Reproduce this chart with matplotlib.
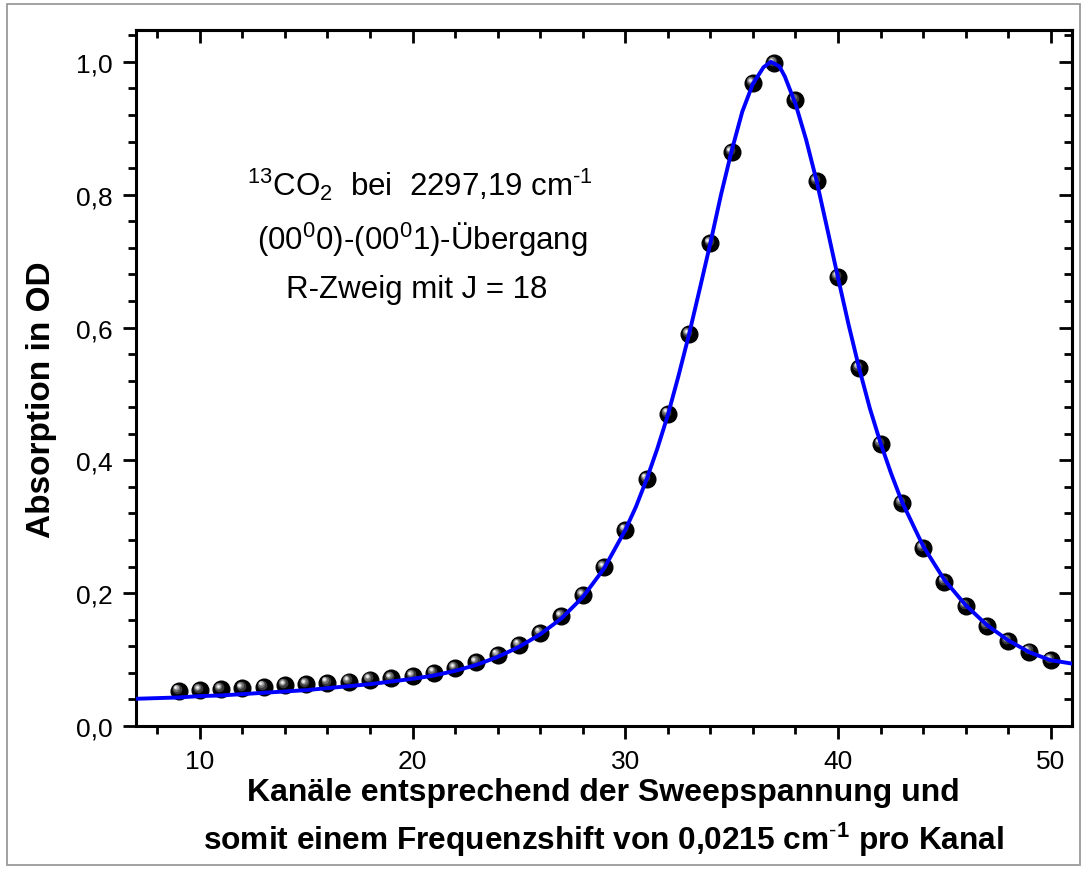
import matplotlib
matplotlib.use("Agg")
import matplotlib.pyplot as plt
from matplotlib.ticker import MultipleLocator, FuncFormatter
from matplotlib.transforms import ScaledTranslation
from matplotlib.patches import Rectangle

# Measured absorption per channel
channels = [9, 10, 11, 12, 13, 14, 15, 16, 17, 18, 19, 20, 21, 22, 23, 24, 25,
            26, 27, 28, 29, 30, 31, 32, 33, 34, 35, 36, 37, 38, 39, 40, 41, 42,
            43, 44, 45, 46, 47, 48, 49, 50]
absorption = [0.053, 0.054, 0.055, 0.057, 0.059, 0.061, 0.063, 0.065, 0.067,
              0.070, 0.072, 0.075, 0.080, 0.087, 0.096, 0.107, 0.122, 0.140,
              0.165, 0.197, 0.239, 0.295, 0.372, 0.470, 0.590, 0.727, 0.864,
              0.968, 0.998, 0.942, 0.820, 0.676, 0.539, 0.425, 0.336, 0.268,
              0.217, 0.180, 0.151, 0.128, 0.112, 0.099]

# Fitted line profile
fit_x = [7, 8, 9, 10, 11, 12, 13, 14, 15, 16, 17, 18, 19, 20, 21, 22, 23, 24,
         25, 26, 27, 28, 29, 30, 30.5, 31, 31.5, 32, 32.5, 33, 33.5, 34, 34.5,
         35, 35.5, 36, 36.5, 36.85, 37.25, 37.5, 38, 38.5, 39, 39.5, 40, 40.5,
         41, 41.5, 42, 42.5, 43, 44, 45, 46, 47, 48, 49, 50, 51]
fit_y = [0.041, 0.042, 0.043, 0.045, 0.046, 0.048, 0.050, 0.052, 0.054, 0.057,
         0.060, 0.063, 0.067, 0.071, 0.076, 0.083, 0.092, 0.104, 0.119, 0.138,
         0.162, 0.194, 0.237, 0.295, 0.330, 0.371, 0.417, 0.468, 0.527, 0.590,
         0.658, 0.727, 0.800, 0.866, 0.925, 0.967, 0.992, 1.000, 0.993, 0.978,
         0.937, 0.883, 0.820, 0.748, 0.675, 0.604, 0.538, 0.478, 0.426, 0.380,
         0.338, 0.271, 0.220, 0.182, 0.152, 0.129, 0.111, 0.099, 0.094]

x_range = (7, 51)
y_range = (0, 1.048)

plt.rcParams['font.family'] = ['Liberation Sans', 'DejaVu Sans']
plt.rcParams['mathtext.fontset'] = 'custom'
plt.rcParams['mathtext.rm'] = 'Liberation Sans'
plt.rcParams['mathtext.bf'] = 'Liberation Sans:bold'
plt.rcParams['mathtext.default'] = 'rm'

W, H = 1087, 870
fig = plt.figure(figsize=(W / 100, H / 100), dpi=100)
ax = fig.add_axes([136 / W, 1 - 727 / H, (1072 - 136) / W, (727 - 31) / H])

# outer frame
fig.patches.append(Rectangle((7 / W, 4 / H), (1080 - 7) / W, (865 - 4) / H,
                             transform=fig.transFigure, fill=False,
                             edgecolor='#9a9a9a', linewidth=1.3))

# shaded spheres for the data points
def shift(dx, dy):
    return ax.transData + ScaledTranslation(dx / 100, dy / 100, fig.dpi_scale_trans)

ax.plot(channels, absorption, 'o', ms=12.0, color='black', mec='black', zorder=3)
layers = [(7.0, '#3a3a3a', -1.8, 2.2), (5.0, '#707070', -2.6, 3.0),
          (3.4, '#b0b0b0', -3.0, 3.4), (1.9, '#f2f2f2', -3.2, 3.6)]
for size, col, dx, dy in layers:
    ax.plot(channels, absorption, 'o', ms=size, color=col, mec='none',
            transform=shift(dx, dy), zorder=4)

ax.plot(fit_x, fit_y, '-', color='#0000ff', lw=2.8, zorder=5,
        solid_joinstyle='round')

ax.set_xlim(*x_range)
ax.set_ylim(*y_range)

ax.xaxis.set_major_locator(MultipleLocator(10))
ax.xaxis.set_minor_locator(MultipleLocator(2))
ax.yaxis.set_major_locator(MultipleLocator(0.2))
ax.yaxis.set_minor_locator(MultipleLocator(0.04))
ax.yaxis.set_major_formatter(FuncFormatter(lambda v, p: f"{v:.1f}".replace('.', ',')))

for s in ax.spines.values():
    s.set_linewidth(2.2)

ax.tick_params(which='both', width=2.0, labelsize=19, colors='black')
ax.tick_params(which='major', length=9.5)
ax.tick_params(which='minor', length=6)
ax.tick_params(axis='x', which='both', direction='out', top=False, pad=7)
ax.tick_params(axis='y', which='both', direction='out', right=False, pad=7)

# inward ticks on the top and right edges
top = ax.secondary_xaxis('top')
top.xaxis.set_major_locator(MultipleLocator(10))
top.xaxis.set_minor_locator(MultipleLocator(2))
top.tick_params(which='both', direction='in', width=2.0, labeltop=False)
top.tick_params(which='major', length=9.5)
top.tick_params(which='minor', length=6)
top.spines['top'].set_linewidth(2.2)
right = ax.secondary_yaxis('right')
right.yaxis.set_major_locator(MultipleLocator(0.2))
right.yaxis.set_minor_locator(MultipleLocator(0.04))
right.tick_params(which='both', direction='in', width=2.0, labelright=False)
right.tick_params(which='major', length=9.5)
right.tick_params(which='minor', length=6)
right.spines['right'].set_linewidth(2.2)

# axis titles
fig.text(603 / W, 1 - 793 / H, 'Kanäle entsprechend der Sweepspannung und',
         ha='center', va='center', fontsize=23, fontweight='bold')
fig.text(603 / W, 1 - 840 / H,
         r'somit einem Frequenzshift von 0,0215 cm$^{\mathbf{\text{-}1}}$ pro Kanal',
         ha='center', va='center', fontsize=22.8, fontweight='bold')
fig.text(42 / W, 1 - 400 / H, 'Absorption in OD', rotation=90,
         ha='center', va='center', fontsize=24, fontweight='bold')

# annotation
ax.text(0.303, 1 - (185 - 31) / 696, r'$^{13}$CO$_2$  bei  2297,19 cm$^{\text{-}1}$',
        transform=ax.transAxes, ha='center', va='center', fontsize=22.5)
ax.text(0.306, 1 - (240 - 31) / 696, r'(00$^0$0)-(00$^0$1)-Übergang',
        transform=ax.transAxes, ha='center', va='center', fontsize=22.5)
ax.text(0.300, 1 - (290 - 31) / 696, 'R-Zweig mit J = 18',
        transform=ax.transAxes, ha='center', va='center', fontsize=22.5)

fig.savefig('out.png', dpi=100)
